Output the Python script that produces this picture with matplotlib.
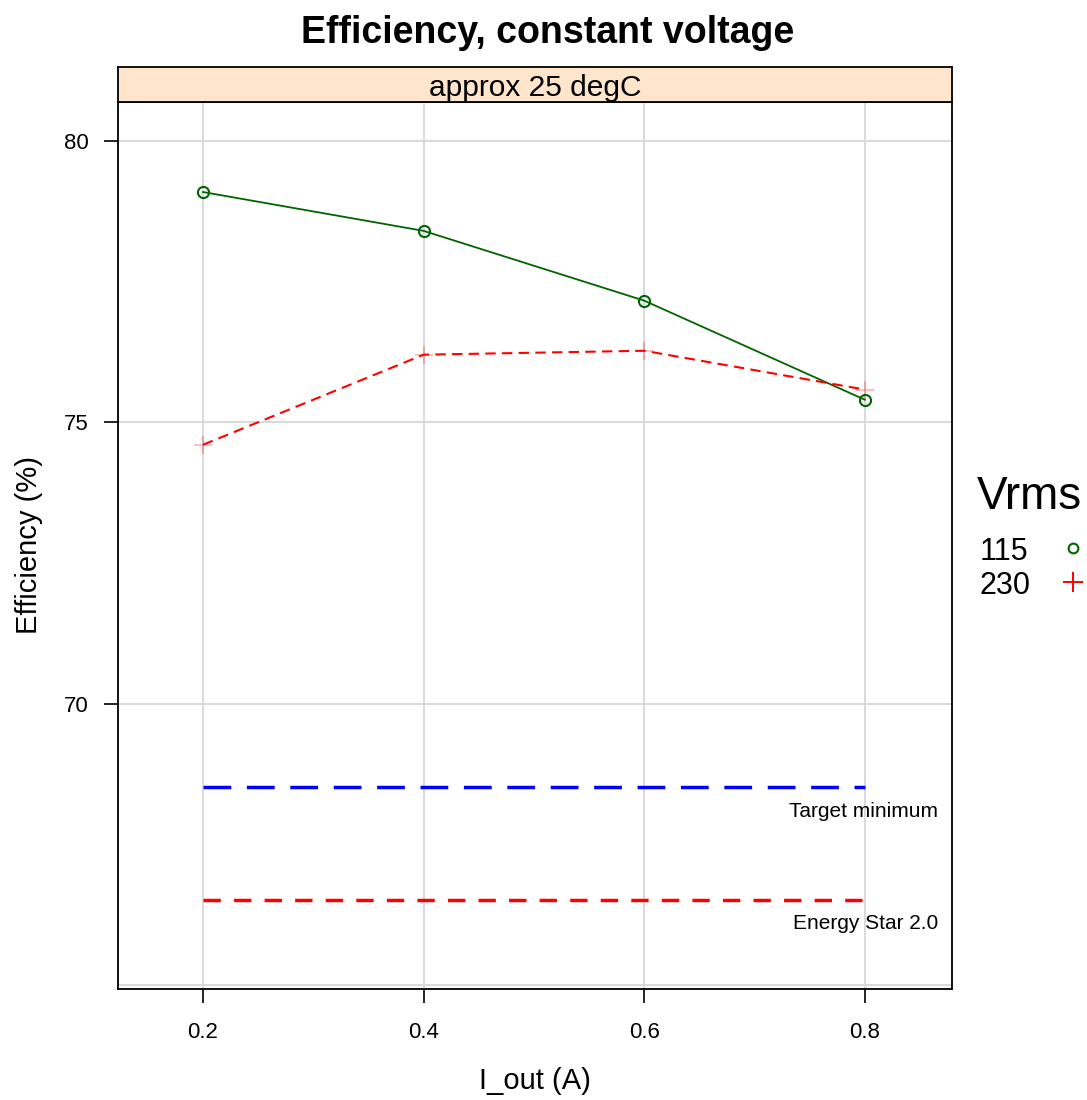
import numpy as np
import matplotlib.pyplot as plt
from matplotlib.lines import Line2D

plt.rcParams['font.family'] = ['Liberation Sans', 'DejaVu Sans']

# data
i_out = [0.2, 0.4, 0.6, 0.8]
eff_115 = [79.09, 78.40, 77.16, 75.40]
eff_230 = [74.60, 76.20, 76.27, 75.58]
target_min = 68.52
energy_star = 66.51
y_ticks = [70, 75, 80]
y_grid = [65, 70, 75, 80]
x_ticks = [0.2, 0.4, 0.6, 0.8]

fig = plt.figure(figsize=(10.87, 11.0), dpi=100)
ax = fig.add_axes([0.1086, 0.1009, 0.7672, 0.8064])

for yg in y_grid:
    ax.axhline(yg, color='#d9d9d9', lw=1.4, zorder=0)
for xg in x_ticks:
    ax.axvline(xg, color='#d9d9d9', lw=1.4, zorder=0)

# series
ax.plot(i_out, eff_115, color='#006400', lw=1.3, marker='o', ms=8,
        mfc='none', mec='#006400', mew=1.5, zorder=3)
ax.plot(i_out, eff_230, color='red', lw=1.5, ls=(0, (5, 3)), zorder=3)
ax.plot(i_out, eff_230, ls='none', marker='+', ms=13, mew=1.2,
        color='red', alpha=0.3, zorder=2)

# reference levels
ax.plot([i_out[0], i_out[-1]], [target_min, target_min], color='blue',
        lw=2.5, ls=(0, (8, 4.5)))
ax.plot([i_out[0], i_out[-1]], [energy_star, energy_star], color='red',
        lw=2.5, ls=(0, (5, 3.8)))
ax.annotate('Target minimum', (i_out[-1], target_min), xytext=(73, -25),
            textcoords='offset pixels', ha='right', va='center', fontsize=15)
ax.annotate('Energy Star 2.0', (i_out[-1], energy_star), xytext=(73, -23),
            textcoords='offset pixels', ha='right', va='center', fontsize=15)

ax.set_xlim(0.123, 0.879)
ax.set_ylim(64.93, 80.69)
ax.set_xticks(x_ticks)
ax.set_xticklabels([f'{v:.1f}' for v in x_ticks])
ax.set_yticks(y_ticks)
ax.tick_params(axis='both', direction='out', length=10, width=1.2,
               labelsize=16, top=False, right=False)
ax.tick_params(axis='y', pad=11)
ax.tick_params(axis='x', pad=14)
for s in ax.spines.values():
    s.set_linewidth(1.3)

ax.set_xlabel('I_out (A)', fontsize=21, labelpad=17)
ax.set_ylabel('Efficiency (%)', fontsize=21, labelpad=15)

# strip
strip = fig.add_axes([0.1086, 0.9073, 0.7672, 0.0318])
strip.set_facecolor('#ffe5cc')
strip.set_xticks([])
strip.set_yticks([])
for s in strip.spines.values():
    s.set_linewidth(1.3)
strip.text(0.5, 0.40, 'approx 25 degC', ha='center', va='center', fontsize=21.5,
           transform=strip.transAxes)

fig.text(0.504, 0.970, 'Efficiency, constant voltage', ha='center',
         va='center', fontsize=27, fontweight='bold')

# legend
fig.text(0.899, 0.548, 'Vrms', ha='left', va='center', fontsize=33)
fig.text(0.901, 0.4985, '115', ha='left', va='center', fontsize=22)
fig.text(0.901, 0.4675, '230', ha='left', va='center', fontsize=22)
fig.add_artist(Line2D([0.987], [0.502], transform=fig.transFigure, marker='o',
                      ms=7, mfc='none', mec='#006400', mew=1.5, ls='none'))
fig.add_artist(Line2D([0.987], [0.471], transform=fig.transFigure, marker='+',
                      ms=15, mew=1.4, color='red', ls='none'))

fig.savefig('out.png', dpi=100)
